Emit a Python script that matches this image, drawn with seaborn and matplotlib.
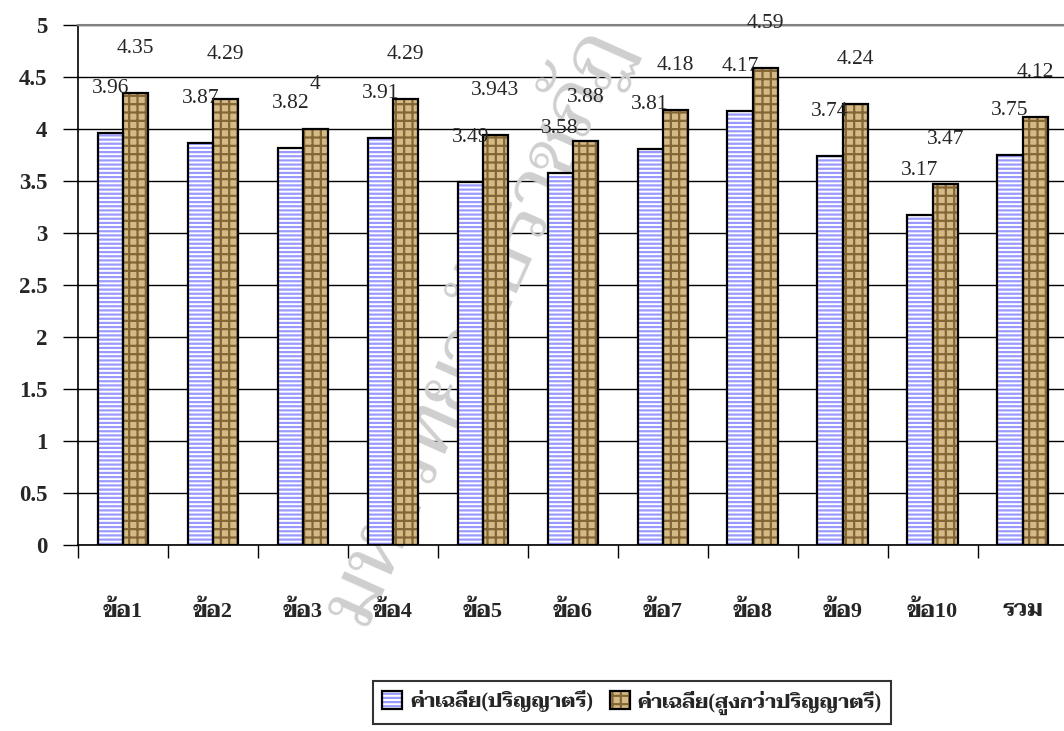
import matplotlib
matplotlib.use("Agg")
import matplotlib.pyplot as plt
from matplotlib.patches import Patch, Rectangle
from matplotlib.legend_handler import HandlerTuple
import seaborn as sns
import pandas as pd

# data
items = ['ข้อ1', 'ข้อ2', 'ข้อ3', 'ข้อ4', 'ข้อ5', 'ข้อ6', 'ข้อ7', 'ข้อ8', 'ข้อ9', 'ข้อ10', 'รวม']
bachelor = [3.96, 3.87, 3.82, 3.91, 3.49, 3.58, 3.81, 4.17, 3.74, 3.17, 3.75]
higher = [4.35, 4.29, 4.00, 4.29, 3.943, 3.88, 4.18, 4.59, 4.24, 3.47, 4.12]
series = ['ค่าเฉลี่ย(ปริญญาตรี)', 'ค่าเฉลี่ย(สูงกว่าปริญญาตรี)']
yticks = [0, 0.5, 1, 1.5, 2, 2.5, 3, 3.5, 4, 4.5, 5]
watermark = 'มหาวิทยาลัยราชภัฏ'

df = pd.DataFrame({
    'item': items * 2,
    'value': bachelor + higher,
    'group': [series[0]] * len(items) + [series[1]] * len(items),
})

sns.set_style('white')
# Liberation Serif for digits, Taviraj picks up the Thai glyphs
plt.rcParams['font.family'] = ['Liberation Serif', 'Taviraj']
plt.rcParams['hatch.linewidth'] = 1.6

fig = plt.figure(figsize=(10.64, 7.31), dpi=100)
ax = fig.add_axes([0.0733, 0.2544, 0.93, 0.7114])

# face colour, hatch, hatch colour per series
styles = [('white', '----', '#9999ff'), ('#d4bb86', '++', '#846636')]

sns.barplot(data=df, x='item', y='value', hue='group', order=items, hue_order=series,
            width=0.56, gap=0, palette=['white', '#d4bb86'], legend=False, ax=ax)

for cont, (fc, hatch, hc) in zip(ax.containers, styles):
    for p in cont.patches:
        p.set_facecolor(fc)
        p.set_hatch(hatch)
        p.set_edgecolor(hc)
        p.set_linewidth(0)
        p.set_zorder(2)
        ax.add_patch(Rectangle(p.get_xy(), p.get_width(), p.get_height(), fill=False,
                               edgecolor='black', lw=1.6, zorder=3))
    labels = ['{:g}'.format(v) for v in cont.datavalues]
    for p, lab in zip(cont.patches, labels):
        ax.annotate(lab, (p.get_x() + p.get_width() / 2, p.get_height()),
                    xytext=(0, 32), textcoords='offset points', ha='center', va='center',
                    fontsize=15.5, zorder=4)

ax.set_ylim(0, 5)
ax.set_xlim(-0.5, len(items) - 0.5)
ax.set_yticks(yticks)
ax.set_yticklabels(['{:g}'.format(t) for t in yticks], fontsize=16.5, fontweight='bold')
ax.set_axisbelow(True)
ax.yaxis.grid(True, color='black', lw=1.0)
ax.tick_params(axis='y', left=True, length=11, width=1.0, color='black', pad=11)

# category ticks sit between groups, labels centred far below the axis
ax.set_xticks(range(len(items)))
ax.set_xticklabels(items, fontsize=16, fontweight='bold')
ax.set_xticks([i - 0.5 for i in range(len(items) + 1)], minor=True)
ax.tick_params(axis='x', which='major', length=0, pad=40)
ax.tick_params(axis='x', which='minor', bottom=True, length=9, width=1.0, color='black')
ax.set_xlabel('')
ax.set_ylabel('')

for side in ['left', 'bottom']:
    ax.spines[side].set_color('black')
    ax.spines[side].set_linewidth(1.2)
ax.spines['top'].set_color('#808080')
ax.spines['top'].set_linewidth(1.5)
ax.spines['right'].set_visible(False)

ax.text(3.9, 2.1, watermark, rotation=66, fontsize=58, color='#cfcfcf',
        ha='center', va='center', zorder=1)

handles = [(Patch(facecolor=fc, hatch=h, edgecolor=hc, lw=0),
            Patch(fill=False, edgecolor='black', lw=1.6)) for fc, h, hc in styles]
leg = fig.legend(handles, series, loc='upper center', bbox_to_anchor=(0.594, 0.068),
                 handler_map={tuple: HandlerTuple(ndivide=1)}, ncol=2, frameon=True,
                 fancybox=False, edgecolor='black', handlelength=1.0, handleheight=1.0,
                 handletextpad=0.4, columnspacing=0.8, borderpad=0.45, borderaxespad=0,
                 prop={'size': 14.5, 'weight': 'bold'})
leg.get_frame().set_linewidth(1.5)

fig.savefig('out.png', dpi=100)
